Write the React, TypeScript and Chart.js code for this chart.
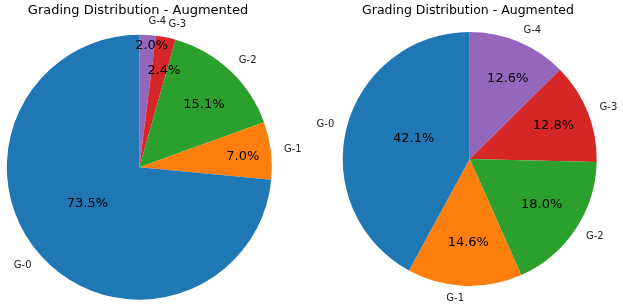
import React, { useEffect, useRef } from "react";
import { Chart, registerables } from "chart.js";

Chart.register(...registerables);

// ---- data ----
const categories = ["G-0", "G-1", "G-2", "G-3", "G-4"];
const leftValues = [73.5, 7.0, 15.1, 2.4, 2.0];
const rightValues = [42.1, 14.6, 18.0, 12.8, 12.6];
const leftTitle = "Grading Distribution - Augmented";
const rightTitle = "Grading Distribution - Augmented";

// ---- styles / layout ----
const sliceColors = ["#1f77b4", "#ff7f0e", "#2ca02c", "#d62728", "#9467bd"];
// percentage text placement: [fraction of radius, angular shift in degrees (ccw)]
const leftPctPlace = [
  [0.48, -7],
  [0.785, -1.4],
  [0.68, -2.8],
  [0.75, -2.8],
  [0.92, -2.2],
];
const rightPctPlace = [
  [0.47, -6],
  [0.66, 1.4],
  [0.67, 1.4],
  [0.71, 0],
  [0.7, -2.7],
];

const FONT = "'DejaVu Sans', sans-serif";

function makeLabelPlugin(
  values: number[],
  place: number[][],
  title: string,
  titleSize: number,
  titleX: number,
  titleY: number
) {
  return {
    id: "pieLabels",
    afterDraw(chart: any) {
      const ctx = chart.ctx as CanvasRenderingContext2D;
      const meta = chart.getDatasetMeta(0);
      const n = values.length;
      ctx.save();
      // title
      ctx.fillStyle = "#000";
      ctx.font = `${titleSize}px ${FONT}`;
      ctx.textAlign = "center";
      ctx.textBaseline = "alphabetic";
      ctx.fillText(title, titleX, titleY);

      meta.data.forEach((arc: any, i: number) => {
        // data is reversed for drawing; map back to category index
        const ci = n - 1 - i;
        const p = arc.getProps(["x", "y", "startAngle", "endAngle", "outerRadius"], true);
        const mid = (p.startAngle + p.endAngle) / 2;
        const r = p.outerRadius;
        // category label at 1.1 r
        const lx = p.x + 1.1 * r * Math.cos(mid);
        const ly = p.y + 1.1 * r * Math.sin(mid);
        ctx.font = `10px ${FONT}`;
        ctx.fillStyle = "#222";
        ctx.textBaseline = "middle";
        ctx.textAlign = Math.cos(mid) > 0 ? "left" : "right";
        ctx.fillText(categories[ci], lx, ly);
        // percentage text
        const [frac, shift] = place[ci];
        const a = mid - (shift * Math.PI) / 180;
        const px = p.x + frac * r * Math.cos(a);
        const py = p.y + frac * r * Math.sin(a);
        ctx.font = `13px ${FONT}`;
        ctx.fillStyle = "#000";
        ctx.textAlign = "center";
        ctx.fillText(values[ci].toFixed(1) + "%", px, py);
      });
      ctx.restore();
    },
  };
}

function PieCanvas(props: {
  values: number[];
  place: number[][];
  title: string;
  titleSize: number;
  titleX: number;
  titleY: number;
  width: number;
  height: number;
  left: number;
  padding: { left: number; right: number; top: number; bottom: number };
}) {
  const ref = useRef<HTMLCanvasElement | null>(null);
  useEffect(() => {
    if (!ref.current) return;
    const rev = [...props.values].reverse();
    const revColors = [...sliceColors].reverse();
    const revLabels = [...categories].reverse();
    const chart = new Chart(ref.current, {
      type: "pie",
      data: {
        labels: revLabels,
        datasets: [
          {
            data: rev,
            backgroundColor: revColors,
            borderWidth: 0,
          },
        ],
      },
      options: {
        responsive: false,
        maintainAspectRatio: false,
        devicePixelRatio: 1,
        animation: false,
        rotation: 0,
        layout: { padding: props.padding },
        plugins: {
          legend: { display: false },
          tooltip: { enabled: false },
          title: { display: false },
        },
      },
      plugins: [
        makeLabelPlugin(
          props.values,
          props.place,
          props.title,
          props.titleSize,
          props.titleX,
          props.titleY
        ),
      ],
    } as any);
    return () => chart.destroy();
  }, []);
  return (
    <canvas
      ref={ref}
      width={props.width}
      height={props.height}
      style={{
        position: "absolute",
        left: props.left,
        top: 0,
        width: props.width,
        height: props.height,
      }}
    />
  );
}

export default function App() {
  return (
    <div
      style={{
        position: "fixed",
        left: 0,
        top: 0,
        width: 623,
        height: 306,
        background: "#fff",
        overflow: "hidden",
      }}
    >
      <PieCanvas
        values={leftValues}
        place={leftPctPlace}
        title={leftTitle}
        titleSize={13}
        titleX={138}
        titleY={14}
        width={311}
        height={306}
        left={0}
        padding={{ left: 6.7, right: 39, top: 34.7, bottom: 6.3 }}
      />
      <PieCanvas
        values={rightValues}
        place={rightPctPlace}
        title={rightTitle}
        titleSize={12.5}
        titleX={157}
        titleY={13.5}
        width={312}
        height={306}
        left={311}
        padding={{ left: 31.7, right: 26.3, top: 32, bottom: 20 }}
      />
    </div>
  );
}
